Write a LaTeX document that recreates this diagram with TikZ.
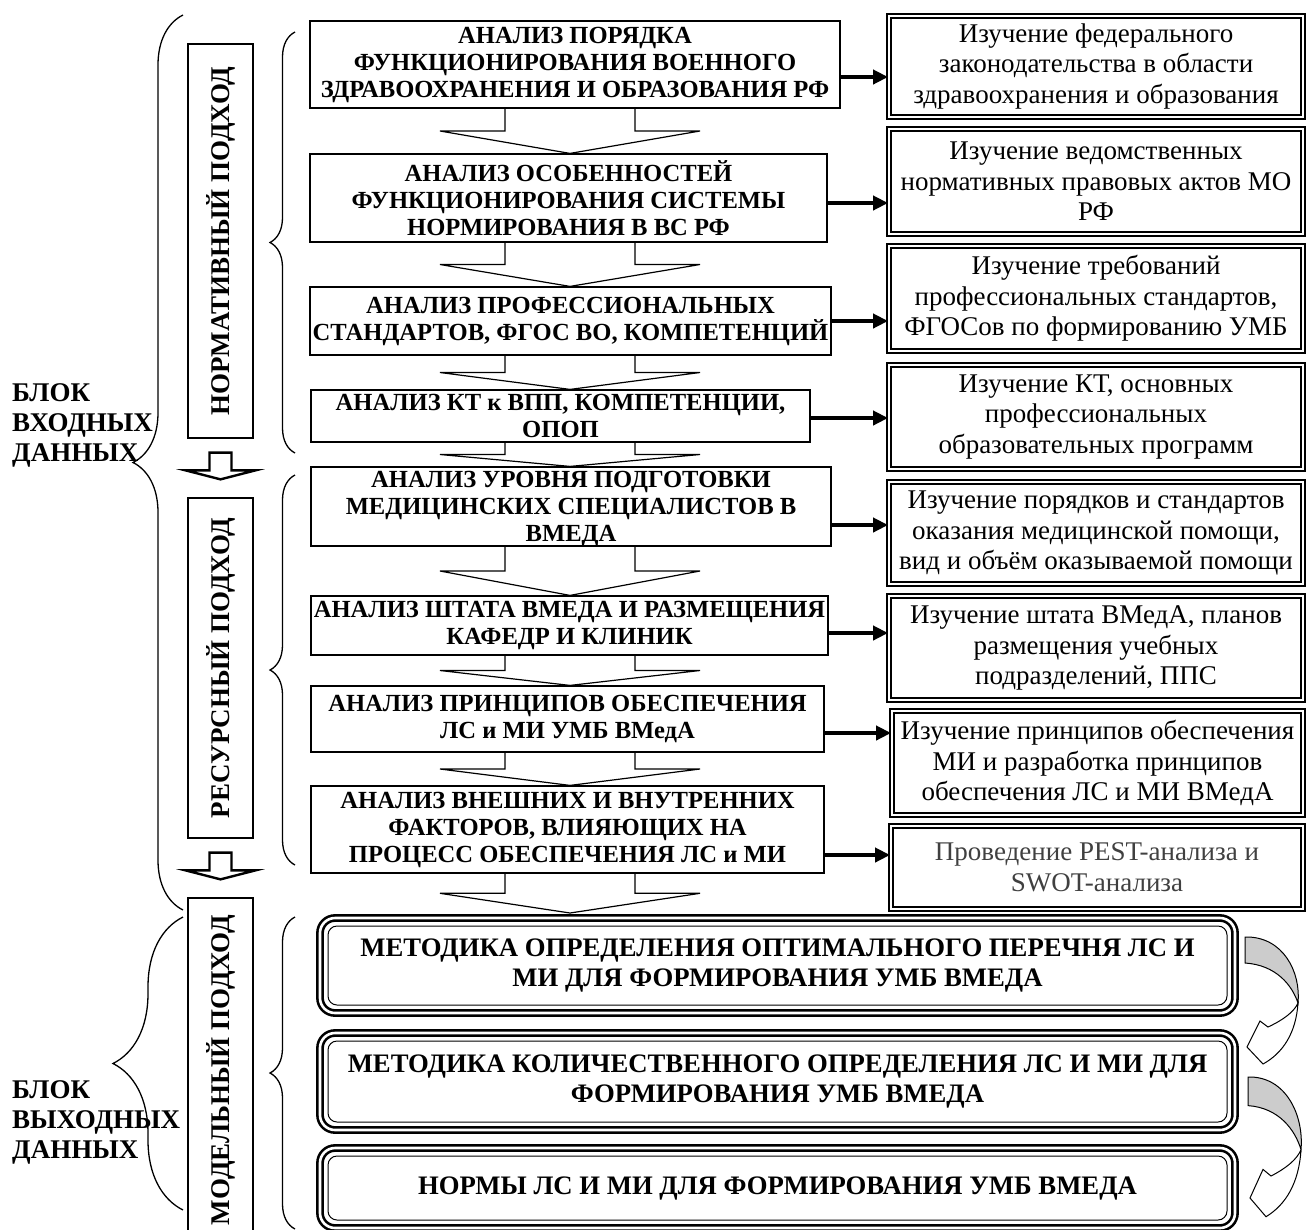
\documentclass[tikz,border=0pt]{standalone}
\usepackage{fontspec}
\setmainfont{Liberation Serif}
\usepackage{graphicx}
\usetikzlibrary{calc,positioning,arrows.meta,decorations.pathreplacing}

\newcommand{\bigdown}[2]{%
  \path (#1.south -| axis) coordinate (s) (axis |- #2.north) coordinate (e);
  \draw[hollow] ($(s)+(-65,0)$) -- ($(s)!.5!(e)+(-65,0)$) -- ($(s)!.5!(e)+(-130,0)$) -- (e)
    -- ($(s)!.5!(e)+(130,0)$) -- ($(s)!.5!(e)+(65,0)$) -- ($(s)+(65,0)$);}
\newcommand{\smalldown}[2]{%
  \path ($(#1.south)+(0,14)$) coordinate (s) ($(#2.north)+(0,-18)$) coordinate (e);
  \draw[line width=2.4pt,fill=white] ($(s)+(-11,0)$) -- ($(e)+(-11,-9)$) -- ($(e)+(-35,-9)$) -- (e)
    -- ($(e)+(35,-9)$) -- ($(e)+(11,-9)$) -- ($(s)+(11,0)$) -- cycle;}
\newcommand{\turnarrow}{%
  \filldraw[fill=gray!40,line width=1pt] (0,0) .. controls (38,-1) and (56,35) .. (53,66)
    .. controls (47,48) and (31,28) .. (0,26) -- cycle;
  \filldraw[fill=white,line width=1pt] (53,66) .. controls (51,96) and (38,116) .. (18,127)
    -- (2,110) -- (15,84) -- (23,90) .. controls (38,83) and (49,75) .. cycle;}

\begin{document}
\begin{tikzpicture}[x=1pt,y=-1pt,
  abox/.style={draw,line width=1.2pt,align=center,inner sep=0pt,font=\bfseries\fontsize{24.6}{27}\selectfont},
  rbox/.style={draw,line width=1.8pt,double,double distance=2.5pt,align=center,inner sep=0pt,font=\fontsize{27}{30.5}\selectfont},
  cbox/.style={draw,line width=1pt,rounded corners=9pt,outer sep=13pt,align=center,font=\bfseries\fontsize{26.7}{30}\selectfont},
  cframe/.style={line width=2.6pt,double,double distance=2.6pt,rounded corners=15pt},
  sbox/.style={draw,line width=1.3pt,minimum width=65,inner sep=0pt,font=\bfseries\fontsize{27}{30}\selectfont},
  lbl/.style={align=left,inner sep=0pt,font=\bfseries\fontsize{27}{30}\selectfont},
  brc/.style={decorate,decoration={brace,amplitude=#1},line width=1.3pt},
  hollow/.style={line width=1.2pt},
  toright/.style={-{Triangle[length=15pt,width=14pt]},line width=4pt}]
  \useasboundingbox (0,0) rectangle (1306,1229);
  \coordinate (axis) at (570,0);

  \node[lbl,anchor=north west] (inblk) at (12,383) {БЛОК\\ВХОДНЫХ\\ДАННЫХ};
  \node[lbl,anchor=north west] (outblk) at (12,1080) {БЛОК\\ВЫХОДНЫХ\\ДАННЫХ};

  \node[sbox,minimum height=394] (norm) at (220.5,241) {\rotatebox{90}{НОРМАТИВНЫЙ ПОДХОД}};
  \node[sbox,minimum height=340] (res) at (220.5,668) {\rotatebox{90}{РЕСУРСНЫЙ ПОДХОД}};
  \node[sbox,minimum height=344] (model) at (220.5,1070) {\rotatebox{90}{МОДЕЛЬНЫЙ ПОДХОД}};
  \smalldown{norm}{res}
  \smalldown{res}{model}

  \draw[brc=50] (183,910) -- (183,15);
  \draw[brc=70] (183,1210) -- (183,917);
  \draw[brc=25] (295,453) -- (295,32);
  \draw[brc=25] (295,865) -- (295,475);
  \draw[brc=25] (295,1229) -- (295,917);

  \node[abox,minimum width=530,minimum height=87] (a1) at (575,64.5) {АНАЛИЗ ПОРЯДКА\\ФУНКЦИОНИРОВАНИЯ ВОЕННОГО\\ЗДРАВООХРАНЕНИЯ И ОБРАЗОВАНИЯ РФ};
  \node[abox,minimum width=517,minimum height=88] (a2) at (568.5,198) {АНАЛИЗ ОСОБЕННОСТЕЙ\\ФУНКЦИОНИРОВАНИЯ СИСТЕМЫ\\НОРМИРОВАНИЯ В ВС РФ};
  \node[abox,minimum width=521,minimum height=68] (a3) at (570.5,321) {АНАЛИЗ ПРОФЕССИОНАЛЬНЫХ\\СТАНДАРТОВ, ФГОС ВО, КОМПЕТЕНЦИЙ};
  \node[abox,minimum width=499,minimum height=52] (a4) at (560.5,416) {АНАЛИЗ КТ к ВПП, КОМПЕТЕНЦИИ,\\ОПОП};
  \node[abox,minimum width=520,minimum height=79] (b1) at (571,506.5) {};
  \node[abox,draw=none,anchor=north] (b1t) at ([yshift=-4pt]b1.north) {АНАЛИЗ УРОВНЯ ПОДГОТОВКИ\\МЕДИЦИНСКИХ СПЕЦИАЛИСТОВ В\\ВМЕДА};
  \node[abox,minimum width=517,minimum height=59] (b2) at (569.5,625.5) {АНАЛИЗ ШТАТА ВМЕДА И РАЗМЕЩЕНИЯ\\КАФЕДР И КЛИНИК};
  \node[abox,minimum width=513,minimum height=66] (b3) at (567.5,719) {АНАЛИЗ ПРИНЦИПОВ ОБЕСПЕЧЕНИЯ\\ЛС и МИ УМБ ВМедА};
  \node[abox,minimum width=513,minimum height=87] (b4) at (567.5,829.5) {АНАЛИЗ ВНЕШНИХ И ВНУТРЕННИХ\\ФАКТОРОВ, ВЛИЯЮЩИХ НА\\ПРОЦЕСС ОБЕСПЕЧЕНИЯ ЛС и МИ};

  \node[cbox,minimum width=899,minimum height=79] (c1) at (777.5,965.5) {МЕТОДИКА ОПРЕДЕЛЕНИЯ ОПТИМАЛЬНОГО ПЕРЕЧНЯ ЛС И\\МИ ДЛЯ ФОРМИРОВАНИЯ УМБ ВМЕДА};
  \node[cbox,minimum width=899,minimum height=81] (c2) at (777.5,1081.5) {МЕТОДИКА КОЛИЧЕСТВЕННОГО ОПРЕДЕЛЕНИЯ ЛС И МИ ДЛЯ\\ФОРМИРОВАНИЯ УМБ ВМЕДА};
  \node[cbox,minimum width=899,minimum height=64] (c3) at (777.5,1188) {НОРМЫ ЛС И МИ ДЛЯ ФОРМИРОВАНИЯ УМБ ВМЕДА};
  \foreach \c in {c1,c2,c3}
    \draw[cframe] ([shift={(5,5)}]\c.north west) rectangle ([shift={(-5,-5)}]\c.south east);

  \foreach \p/\n in {a1/a2,a2/a3,a3/a4,a4/b1,b1/b2,b2/b3,b3/b4,b4/c1}
    {\bigdown{\p}{\n}}

  \node[rbox,minimum width=414,minimum height=101] (r1) at (1096,66.5) {Изучение федерального\\законодательства в области\\здравоохранения и образования};
  \node[rbox,minimum width=414,minimum height=105] (r2) at (1096,181.5) {Изучение ведомственных\\нормативных правовых актов МО\\РФ};
  \node[rbox,minimum width=414,minimum height=105] (r3) at (1096,298.5) {Изучение требований\\профессиональных стандартов,\\ФГОСов по формированию УМБ};
  \node[rbox,minimum width=414,minimum height=104] (r4) at (1096,417) {Изучение КТ, основных\\профессиональных\\образовательных программ};
  \node[rbox,minimum width=414,minimum height=102] (r5) at (1096,533) {Изучение порядков и стандартов\\оказания медицинской помощи,\\вид и объём оказываемой помощи};
  \node[rbox,minimum width=414,minimum height=104] (r6) at (1096,648) {Изучение штата ВМедА, планов\\размещения учебных\\подразделений, ППС};
  \node[rbox,minimum width=411,minimum height=104] (r7) at (1097.5,763) {Изучение принципов обеспечения\\МИ и разработка принципов\\обеспечения ЛС и МИ ВМедА};
  \node[rbox,minimum width=412,minimum height=83,text=black!75] (r8) at (1097,867.5) {Проведение PEST-анализа и\\SWOT-анализа};

  \foreach \src/\dst/\lev in {a1/r1/77,a2/r2/203,a3/r3/321,a4/r4/418,b1/r5/525,b2/r6/633,b3/r7/733,b4/r8/855}
    {\coordinate (lv) at (0,\lev);
     \draw[toright] (\src.east |- lv) -- (\dst.west |- lv);}

  \begin{scope}[shift={(1245,937)}]
    \turnarrow
  \end{scope}
  \begin{scope}[shift={(1248,1077)},yscale=1.1]
    \turnarrow
  \end{scope}
\end{tikzpicture}
\end{document}
